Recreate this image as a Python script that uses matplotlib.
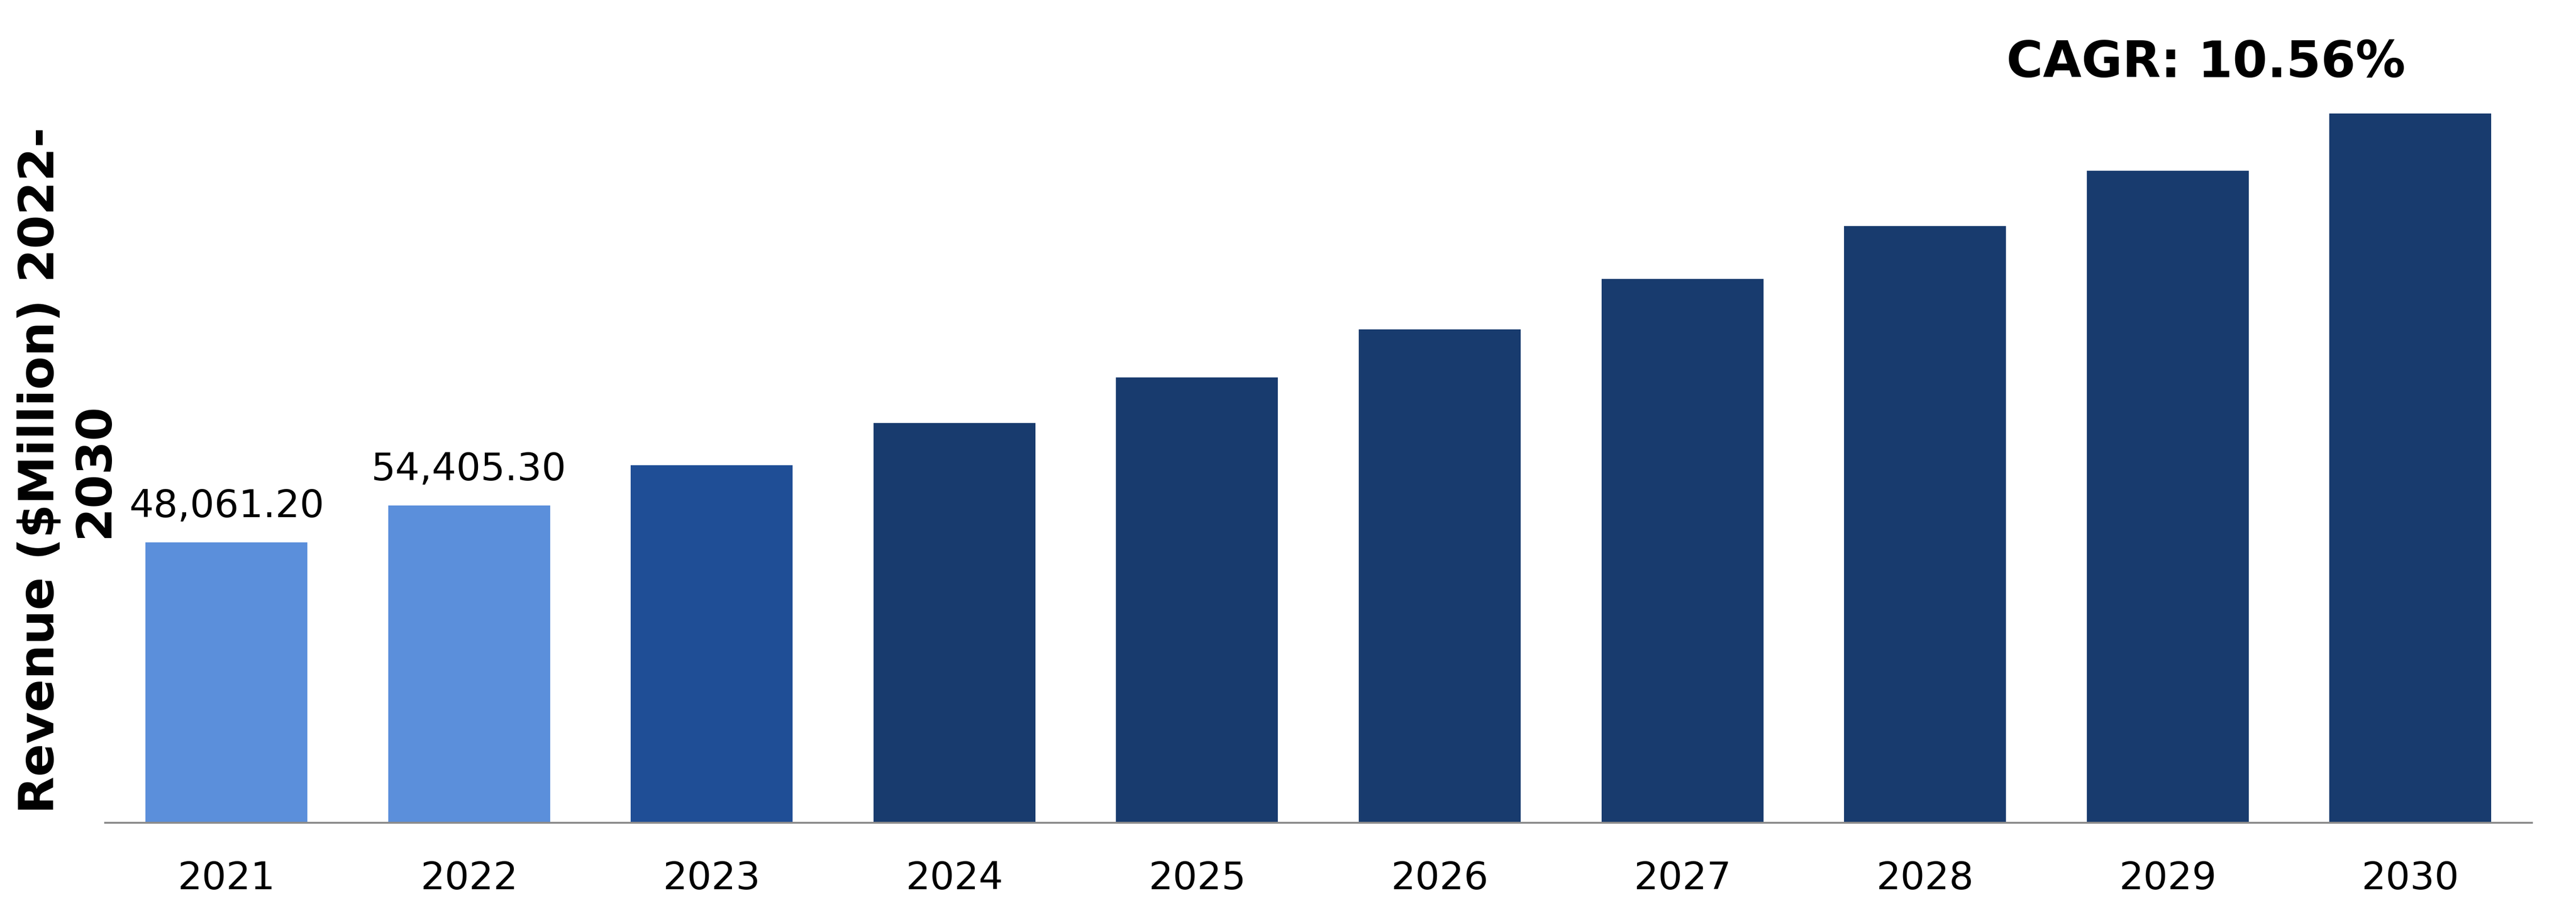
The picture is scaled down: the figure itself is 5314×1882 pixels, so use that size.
import matplotlib
matplotlib.use("Agg")
import matplotlib.pyplot as plt
import numpy as np

years = ['2021', '2022', '2023', '2024', '2025', '2026', '2027', '2028', '2029', '2030']
revenue = [48061.20, 54405.30, 61300, 68530, 76350, 84580, 93230, 102300, 111780, 121600]
labels = ['48,061.20', '54,405.30', '', '', '', '', '', '', '', '']
colors = ['#5b8fdb', '#5b8fdb', '#1f4e96', '#183b6e', '#183b6e',
          '#183b6e', '#183b6e', '#183b6e', '#183b6e', '#183b6e']

plt.rcParams['font.family'] = ['DejaVu Sans']

fig = plt.figure(figsize=(53.14, 18.83), dpi=100)
ax = fig.add_axes([0.0408, 0.0988, 0.9420, 0.83])

x = np.arange(len(years))
bars = ax.bar(x, revenue, width=0.667, color=colors, zorder=2)

for i, b in enumerate(bars):
    if labels[i]:
        ax.annotate(labels[i], (b.get_x() + b.get_width() / 2, b.get_height()),
                    xytext=(0, 38), textcoords='offset points',
                    ha='center', va='baseline', fontsize=57, color='black')

ax.set_xlim(-0.5, 9.5)
ax.set_ylim(0, 130000)
ax.set_xticks(x)
ax.set_xticklabels(years, fontsize=57)
ax.tick_params(axis='x', length=0, pad=55)
ax.set_yticks([])

for s in ['top', 'right', 'left']:
    ax.spines[s].set_visible(False)
ax.spines['bottom'].set_color('#8c8c8c')
ax.spines['bottom'].set_linewidth(2.9)

fig.text(0.0262, 0.4849, 'Revenue ($Million) 2022-\n2030', rotation=90,
         ha='center', va='center', multialignment='center',
         fontsize=72, fontweight='bold')

fig.text(0.8564, 0.9156, 'CAGR: 10.56%', ha='center', va='baseline',
         fontsize=74, fontweight='bold')

fig.savefig('out.png', dpi=100)
